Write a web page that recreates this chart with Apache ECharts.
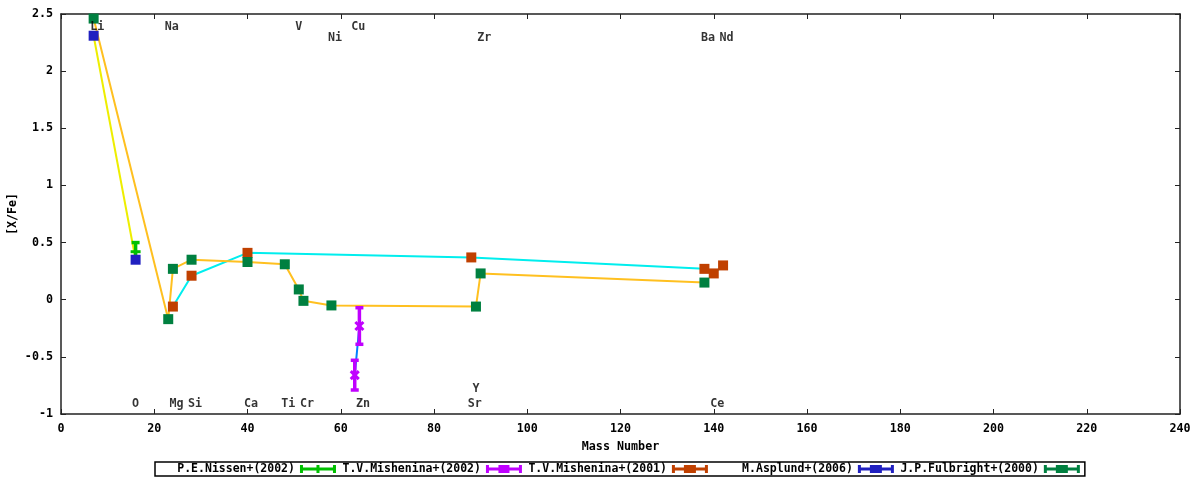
<!DOCTYPE html>
<html>
<head>
<meta charset="utf-8">
<title>[X/Fe] vs Mass Number</title>
<script src="https://cdn.jsdelivr.net/npm/echarts@6.0.0/dist/echarts.min.js"></script>
<style>
  html, body { margin: 0; padding: 0; background: #fff; }
  #main { width: 1200px; height: 480px; }
</style>
</head>
<body>
<div id="main"></div>
<script>
// 各文献の [X/Fe] データ
const nissenMass = [16];
const nissenVal = [0.42];
const nissenErr = [0.08];

const mish2002Mass = [63, 64];
const mish2002Val = [-0.66, -0.23];
const mish2002Err = [0.13, 0.16];

const mish2001Mass = [24, 28, 40, 88, 138, 140, 142];
const mish2001Val = [-0.06, 0.21, 0.41, 0.37, 0.27, 0.23, 0.30];

const asplundMass = [7, 16];
const asplundVal = [2.31, 0.35];

const fulbrightMass = [7, 23, 24, 28, 40, 48, 51, 52, 58, 89, 90, 138];
const fulbrightVal = [2.46, -0.17, 0.27, 0.35, 0.33, 0.31, 0.09, -0.01, -0.05, -0.06, 0.23, 0.15];

// 元素ラベル
const elemNames = ['Li', 'Na', 'V', 'Cu', 'Ni', 'Zr', 'Ba', 'Nd',
                   'O', 'Mg', 'Si', 'Ca', 'Ti', 'Cr', 'Zn', 'Y', 'Sr', 'Ce'];
const elemMass = [7, 23, 51, 63, 58, 90, 138, 142,
                  16, 24, 28, 40, 48, 52, 64, 89, 88, 140];
const elemLabelY = [2.4, 2.4, 2.4, 2.4, 2.3, 2.3, 2.3, 2.3,
                    -0.9, -0.9, -0.9, -0.9, -0.9, -0.9, -0.9, -0.77, -0.9, -0.9];

const seriesNames = ['P.E.Nissen+(2002)', 'T.V.Mishenina+(2002)', 'T.V.Mishenina+(2001)',
                     'M.Asplund+(2006)', 'J.P.Fulbright+(2000)'];

// gnuplot の既定色
const pointColors = ['#00c000', '#c000ff', '#c04000', '#2020c0', '#008040'];
const lineColors = ['#ff0000', '#0080ff', '#00eeee', '#eeee00', '#ffc020'];

const font = 'DejaVu Sans Mono';
const fontSize = 11.7;

function pairs(xs, ys) {
    return xs.map(function (x, i) { return [x, ys[i]]; });
}
function triples(xs, ys, es) {
    return xs.map(function (x, i) { return [x, ys[i], es[i]]; });
}

// 凡例アイコン（エラーバーの見本）
function rect(x, y, w, h) {
    return 'M' + x + ',' + y + 'h' + w + 'v' + h + 'h' + (-w) + 'Z';
}
const hShape = rect(0, 0, 3, 8) + rect(0, 2.5, 36, 3) + rect(33, 0, 3, 8);
const icons = [
    'path://' + hShape + rect(16.5, 0, 3, 8),
    'path://' + hShape + rect(12.5, 0, 11, 8),
    'path://' + hShape + rect(12, 0, 12, 8),
    'path://' + hShape + rect(12, 0, 12, 8),
    'path://' + hShape + rect(12, 0, 12, 8)
];

// エラーバー描画
function errorBar(marker) {
    return function (params, api) {
        const x = api.value(0), y = api.value(1), e = api.value(2);
        const top = api.coord([x, y + e]);
        const bot = api.coord([x, y - e]);
        const mid = api.coord([x, y]);
        const color = api.visual('color');
        const st = { stroke: color, lineWidth: 3.5 };
        const cap = 4;
        const children = [
            { type: 'line', shape: { x1: top[0], y1: top[1], x2: bot[0], y2: bot[1] }, style: st },
            { type: 'line', shape: { x1: top[0] - cap, y1: top[1], x2: top[0] + cap, y2: top[1] }, style: st },
            { type: 'line', shape: { x1: bot[0] - cap, y1: bot[1], x2: bot[0] + cap, y2: bot[1] }, style: st }
        ];
        if (marker === 'plus') {
            children.push({ type: 'line', shape: { x1: mid[0] - 5, y1: mid[1], x2: mid[0] + 5, y2: mid[1] }, style: { stroke: color, lineWidth: 3 } });
        } else {
            children.push({ type: 'line', shape: { x1: mid[0] - 4, y1: mid[1] - 4, x2: mid[0] + 4, y2: mid[1] + 4 }, style: { stroke: color, lineWidth: 3 } });
            children.push({ type: 'line', shape: { x1: mid[0] - 4, y1: mid[1] + 4, x2: mid[0] + 4, y2: mid[1] - 4 }, style: { stroke: color, lineWidth: 3 } });
        }
        return { type: 'group', children: children };
    };
}

function lineSeries(data, color) {
    return {
        type: 'line',
        data: data,
        showSymbol: false,
        silent: true,
        z: 1,
        lineStyle: { color: color, width: 2 },
        animation: false
    };
}

function squareSeries(name, data, color, z) {
    return {
        name: name,
        type: 'scatter',
        data: data,
        symbol: 'rect',
        symbolSize: 10,
        itemStyle: { color: color, opacity: 1 },
        z: z,
        animation: false
    };
}

// 凡例の文字列を右寄せ（等幅フォント）
function padLeft(s, n) {
    while (s.length < n) s = ' ' + s;
    return s;
}

const chart = echarts.init(document.getElementById('main'));

const axisText = { fontFamily: font, fontWeight: 'bold', fontSize: fontSize, color: '#000' };

const option = {
    backgroundColor: '#fff',
    animation: false,
    grid: {
        left: 61,
        right: 20,
        top: 14,
        bottom: 66,
        containLabel: false,
        outerBoundsMode: 'none'
    },
    legend: {
        data: seriesNames.map(function (n, i) { return { name: n, icon: icons[i] }; }),
        formatter: function (name) { return padLeft(name, 20); },
        left: 155,
        top: 462,
        align: 'right',
        itemWidth: 36,
        itemHeight: 8,
        itemGap: 6.5,
        padding: [1, 5, 1, 1.5],
        borderColor: '#000',
        borderWidth: 1.5,
        selectedMode: false,
        textStyle: {
            fontFamily: font,
            fontWeight: 'bold',
            fontSize: 11.5,
            color: '#000'
        }
    },
    xAxis: [
        {
            type: 'value',
            min: 0,
            max: 240,
            interval: 20,
            name: 'Mass Number',
            nameLocation: 'middle',
            nameGap: 27,
            nameMoveOverlap: false,
            nameTextStyle: axisText,
            splitLine: { show: false },
            axisLine: { onZero: false, lineStyle: { color: '#222', width: 1.5 } },
            axisTick: { inside: true, length: 5, lineStyle: { color: '#222' } },
            axisLabel: Object.assign({ margin: 9 }, axisText)
        },
        {
            type: 'value',
            position: 'top',
            min: 0,
            max: 240,
            interval: 20,
            splitLine: { show: false },
            axisLine: { onZero: false, lineStyle: { color: '#222', width: 1.5 } },
            axisTick: { inside: true, length: 5, lineStyle: { color: '#222' } },
            axisLabel: { show: false }
        }
    ],
    yAxis: [
        {
            type: 'value',
            min: -1,
            max: 2.5,
            interval: 0.5,
            name: '[X/Fe]',
            nameLocation: 'middle',
            nameGap: 42,
            nameRotate: 90,
            nameMoveOverlap: false,
            nameTextStyle: axisText,
            splitLine: { show: false },
            axisLine: { onZero: false, lineStyle: { color: '#222', width: 1.5 } },
            axisTick: { inside: true, length: 5, lineStyle: { color: '#222' } },
            axisLabel: Object.assign({ margin: 8 }, axisText)
        },
        {
            type: 'value',
            position: 'right',
            min: -1,
            max: 2.5,
            interval: 0.5,
            splitLine: { show: false },
            axisLine: { onZero: false, lineStyle: { color: '#222', width: 1.5 } },
            axisTick: { inside: true, length: 5, lineStyle: { color: '#222' } },
            axisLabel: { show: false }
        }
    ],
    series: [
        // 折れ線
        lineSeries(pairs(mish2002Mass, mish2002Val), lineColors[1]),
        lineSeries(pairs(mish2001Mass, mish2001Val), lineColors[2]),
        lineSeries(pairs(asplundMass, asplundVal), lineColors[3]),
        lineSeries(pairs(fulbrightMass, fulbrightVal), lineColors[4]),
        // エラーバー付きの点
        {
            name: seriesNames[0],
            type: 'custom',
            renderItem: errorBar('plus'),
            data: triples(nissenMass, nissenVal, nissenErr),
            encode: { x: 0, y: 1 },
            itemStyle: { color: pointColors[0] },
            z: 2
        },
        {
            name: seriesNames[1],
            type: 'custom',
            renderItem: errorBar('cross'),
            data: triples(mish2002Mass, mish2002Val, mish2002Err),
            encode: { x: 0, y: 1 },
            itemStyle: { color: pointColors[1] },
            z: 3
        },
        squareSeries(seriesNames[2], pairs(mish2001Mass, mish2001Val), pointColors[2], 4),
        squareSeries(seriesNames[3], pairs(asplundMass, asplundVal), pointColors[3], 5),
        squareSeries(seriesNames[4], pairs(fulbrightMass, fulbrightVal), pointColors[4], 6),
        // 元素名
        {
            type: 'scatter',
            silent: true,
            symbolSize: 1,
            itemStyle: { color: 'rgba(0,0,0,0)' },
            z: 7,
            data: elemNames.map(function (n, i) { return [elemMass[i], elemLabelY[i], n]; }),
            label: {
                show: true,
                position: 'inside',
                align: 'left',
                verticalAlign: 'middle',
                offset: [-3.5, 1.5],
                formatter: function (p) { return p.value[2]; },
                fontFamily: font,
                fontWeight: 'bold',
                fontSize: fontSize,
                color: '#000'
            }
        }
    ]
};

chart.setOption(option);
</script>
</body>
</html>
